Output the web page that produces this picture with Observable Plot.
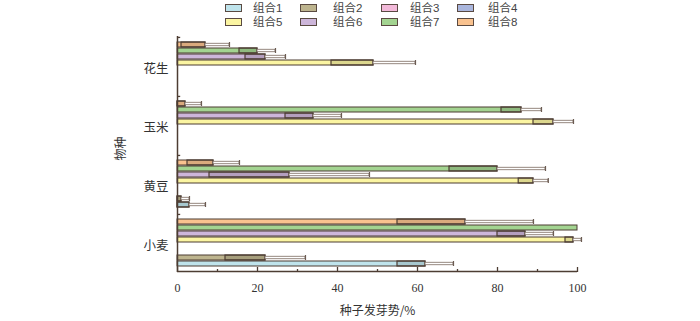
<!DOCTYPE html>
<html><head><meta charset="utf-8">
<script src="https://cdn.jsdelivr.net/npm/d3@7"></script>
<script src="https://cdn.jsdelivr.net/npm/@observablehq/plot@0.6"></script>
<style>
body{margin:0;background:#fff;}
#wrap{position:relative;width:700px;height:321px;font-family:"Noto Sans CJK SC","Noto Sans",sans-serif;overflow:hidden;}
#legend{position:absolute;left:0;top:0;width:700px;height:30px;}
.sw{position:absolute;width:15px;height:6px;border:1px solid #5a4a42;}
.lb{position:absolute;font-family:"Liberation Sans","Noto Sans CJK SC",sans-serif;font-size:11.5px;line-height:12px;height:12px;color:#444;white-space:nowrap;}
#chart{position:absolute;left:0;top:30px;}
</style></head><body>
<div id="wrap"><div id="legend"></div><div id="chart"></div></div>
<script>
// ---- data ----
const species = ["花生", "玉米", "黄豆", "小麦"];
const combos = ["组合1", "组合2", "组合3", "组合4", "组合5", "组合6", "组合7", "组合8"];
const colors = ["#bfe4ec", "#bdb48e", "#f2b9d9", "#aab6dd", "#fbf5a2", "#cdb6da", "#a3d491", "#f9c28f"];
// germination vigor (%) mean and error per combo 1..8
const peanutMean = [0, 0, 0, 0, 49, 22, 20, 7];
const peanutErr  = [0, 0, 0, 0, 10.5, 5, 4.5, 6];
const cornMean   = [0, 0, 0, 0, 94, 34, 86, 2];
const cornErr    = [0, 0, 0, 0, 5, 7, 5, 4];
const soyMean    = [3, 1, 0, 0, 89, 28, 80, 9];
const soyErr     = [4, 2, 0, 0, 3.7, 20, 12, 6.5];
const wheatMean  = [62, 22, 0, 0, 99, 87, 100, 72];
const wheatErr   = [7, 10, 0, 0, 2, 7, 0, 17];
const xMajorTicks = [0, 20, 40, 60, 80, 100];
const xMinorTicks = [10, 30, 50, 70, 90];
const xTitle = "种子发芽势/%";
const yTitle = "物种";

const means = [peanutMean, cornMean, soyMean, wheatMean];
const errs = [peanutErr, cornErr, soyErr, wheatErr];
const rows = [];
species.forEach((sp, i) => combos.forEach((c, j) => rows.push({sp, combo: c, mean: means[i][j], err: errs[i][j]})));
const shown = rows.filter(d => d.mean > 0);
const withErr = shown.filter(d => d.err > 0);

// ---- legend ----
const legend = document.getElementById("legend");
const swX = [225, 300, 381, 457], lbX = [253, 333, 410, 488], rowY = [2, 16];
combos.forEach((c, j) => {
  const col = j % 4, row = Math.floor(j / 4);
  const s = document.createElement("div");
  s.className = "sw"; s.style.left = swX[col] + "px"; s.style.top = (rowY[row] + 2) + "px"; s.style.background = colors[j];
  const t = document.createElement("div");
  t.className = "lb"; t.style.left = lbX[col] + "px"; t.style.top = rowY[row] + "px"; t.textContent = c;
  legend.append(s, t);
});

// ---- chart ----
const ink = "#4d3d33";
const bandOff = 7.56;
const chart = Plot.plot({
  width: 700, height: 291,
  marginTop: 5, marginBottom: 49, marginLeft: 177, marginRight: 123,
  style: {fontFamily: '"Noto Sans CJK SC", "Noto Sans", sans-serif', color: "#333", background: "#fff", overflow: "visible"},
  x: {domain: [0, 100]},
  y: {domain: combos.slice().reverse(), paddingInner: 0.2, paddingOuter: 0.8, axis: null},
  fy: {domain: species, padding: 0},
  color: {domain: combos, range: colors},
  marks: [
    Plot.barX(shown, {fy: "sp", y: "combo", x1: 0, x2: "mean", fill: "combo", stroke: ink, strokeWidth: 1}),
    Plot.barX(withErr, {fy: "sp", y: "combo", x1: d => Math.max(0, d.mean - d.err), x2: "mean", fill: "#000", fillOpacity: 0.12, stroke: ink, strokeWidth: 1.2}),
    Plot.barX(withErr, {fy: "sp", y: "combo", x1: "mean", x2: d => d.mean + d.err, insetTop: 1.3, insetBottom: 1.3, fill: "white", stroke: "#8a7b72", strokeWidth: 0.9}),
    Plot.tickX(withErr, {fy: "sp", y: "combo", x: d => d.mean + d.err, stroke: "#6b5b52", strokeWidth: 1.2}),
    Plot.ruleX([0], {stroke: ink, strokeWidth: 1.5}),
    Plot.ruleY(species, {fy: d => d, y: () => "组合8", x1: 0, x2: 0.8, dy: -bandOff, stroke: ink, strokeWidth: 1.3}),
    Plot.ruleY(["小麦"], {fy: d => d, y: () => "组合1", x1: 0, x2: 100, dy: bandOff, stroke: ink, strokeWidth: 1.5}),
    Plot.axisX({ticks: xMajorTicks, tickSize: -5, tickFormat: () => "", stroke: ink, strokeWidth: 1.3, label: null}),
    Plot.axisX({ticks: xMinorTicks, tickSize: -3, tickFormat: () => "", stroke: ink, strokeWidth: 1.3, label: null}),
    Plot.axisX({ticks: xMajorTicks, tickSize: 0, tickPadding: 11, fontFamily: '"Liberation Serif", serif', fontSize: 12, fill: "#333", label: null}),
    Plot.axisFy({anchor: "left", tickSize: 0, tickPadding: 9, fontSize: 12.5, dy: 3, fill: "#333", label: null}),
    Plot.text([xTitle], {fy: () => "小麦", frameAnchor: "bottom", dy: 42, fontSize: 12, fill: "#333"}),
    Plot.text([yTitle], {fy: () => "黄豆", frameAnchor: "top-left", dx: -61, dy: 6, rotate: -90, fontSize: 12, fill: "#333"})
  ]
});
document.getElementById("chart").append(chart);
</script>
</body></html>
